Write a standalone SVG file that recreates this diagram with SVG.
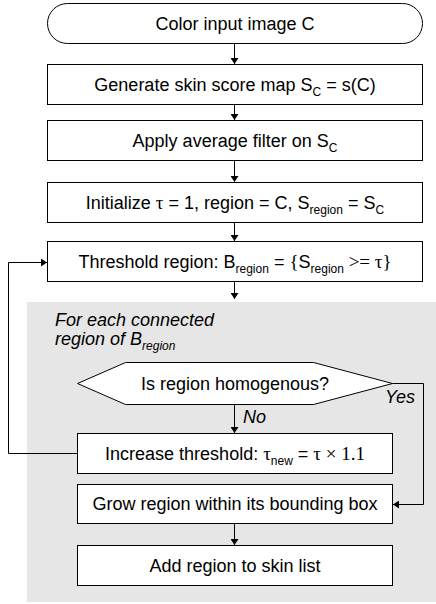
<svg xmlns="http://www.w3.org/2000/svg" width="436" height="604" viewBox="0 0 436 604">
  <style>
    .box { fill: #fff; stroke: #000; stroke-width: 1; }
    .t { font-family: "Liberation Sans", Arial, sans-serif; font-size: 18px; fill: #000; }
    .c { text-anchor: middle; }
    .i { font-style: italic; }
    .sub { font-size: 12px; }
    .sym { font-family: "Liberation Serif", "Times New Roman", serif; font-size: 19px; }
    .wire { fill: none; stroke: #000; stroke-width: 1; }
  </style>
  <defs>
    <marker id="arrow" markerWidth="6" markerHeight="8" refX="6" refY="4" orient="auto" markerUnits="userSpaceOnUse">
      <path d="M0,0 L6,4 L0,8 Z" fill="#000"/>
    </marker>
  </defs>

  <!-- shaded loop area: per connected region -->
  <rect id="loop-area" x="27" y="302" width="409" height="300" fill="#e6e6e6"/>

  <g id="start">
    <rect class="box" x="47.5" y="3.5" width="375" height="40" rx="20" ry="20"/>
    <text class="t c" x="235" y="30">Color input image C</text>
  </g>

  <g id="score-map">
    <rect class="box" x="47.5" y="64.5" width="375" height="40"/>
    <text class="t c" x="235" y="91">Generate skin score map S<tspan class="sub" dy="5">C</tspan><tspan dy="-5"> = s(C)</tspan></text>
  </g>

  <g id="avg-filter">
    <rect class="box" x="47.5" y="120.5" width="375" height="40"/>
    <text class="t c" x="235" y="147">Apply average filter on S<tspan class="sub" dy="5">C</tspan></text>
  </g>

  <g id="init">
    <rect class="box" x="47.5" y="182.5" width="375" height="40"/>
    <text class="t c" x="235" y="209">Initialize <tspan class="sym">τ</tspan> = 1, region = C, S<tspan class="sub" dy="5">region</tspan><tspan dy="-5"> = S</tspan><tspan class="sub" dy="5">C</tspan></text>
  </g>

  <g id="threshold">
    <rect class="box" x="47.5" y="241.5" width="375" height="40"/>
    <text class="t c" x="235" y="268">Threshold region: B<tspan class="sub" dy="5">region</tspan><tspan dy="-5"> = </tspan><tspan class="sym">{</tspan>S<tspan class="sub" dy="5">region</tspan><tspan class="sym" dy="-5"> &gt;= τ}</tspan></text>
  </g>

  <g id="loop-label">
    <text class="t i" x="55" y="326">For each connected</text>
    <text class="t i" x="55" y="345">region of B<tspan class="sub" dy="5">region</tspan></text>
  </g>

  <g id="homogenous">
    <polygon class="box" points="77.5,383.5 125.5,362.5 313.5,362.5 392.5,383.5 313.5,404.5 125.5,404.5"/>
    <text class="t c" x="235" y="390">Is region homogenous?</text>
  </g>

  <g id="increase">
    <rect class="box" x="77.5" y="433.5" width="315" height="40"/>
    <text class="t c" x="235" y="460">Increase threshold: <tspan class="sym">τ</tspan><tspan class="sub" dy="5">new</tspan><tspan dy="-5"> = </tspan><tspan class="sym">τ × 1.1</tspan></text>
  </g>

  <g id="grow">
    <rect class="box" x="77.5" y="484.5" width="315" height="39"/>
    <text class="t c" x="235" y="510">Grow region within its bounding box</text>
  </g>

  <g id="add">
    <rect class="box" x="77.5" y="545.5" width="315" height="40"/>
    <text class="t c" x="235" y="572">Add region to skin list</text>
  </g>

  <g id="connectors">
    <line class="wire" x1="234.5" y1="44" x2="234.5" y2="64" marker-end="url(#arrow)"/>
    <line class="wire" x1="234.5" y1="105" x2="234.5" y2="120" marker-end="url(#arrow)"/>
    <line class="wire" x1="234.5" y1="161" x2="234.5" y2="182" marker-end="url(#arrow)"/>
    <line class="wire" x1="234.5" y1="223" x2="234.5" y2="241" marker-end="url(#arrow)"/>
    <line class="wire" x1="234.5" y1="282" x2="234.5" y2="299" marker-end="url(#arrow)"/>
    <line class="wire" x1="234.5" y1="405" x2="234.5" y2="433" marker-end="url(#arrow)"/>
    <polyline class="wire" points="392.5,383.5 423.5,383.5 423.5,504.5 393,504.5" marker-end="url(#arrow)"/>
    <line class="wire" x1="234.5" y1="524" x2="234.5" y2="545" marker-end="url(#arrow)"/>
    <polyline class="wire" points="77,453.5 8.5,453.5 8.5,262.5 47,262.5" marker-end="url(#arrow)"/>
    <text class="t i" x="243" y="423">No</text>
    <text class="t i" x="385" y="403">Yes</text>
  </g>
</svg>
